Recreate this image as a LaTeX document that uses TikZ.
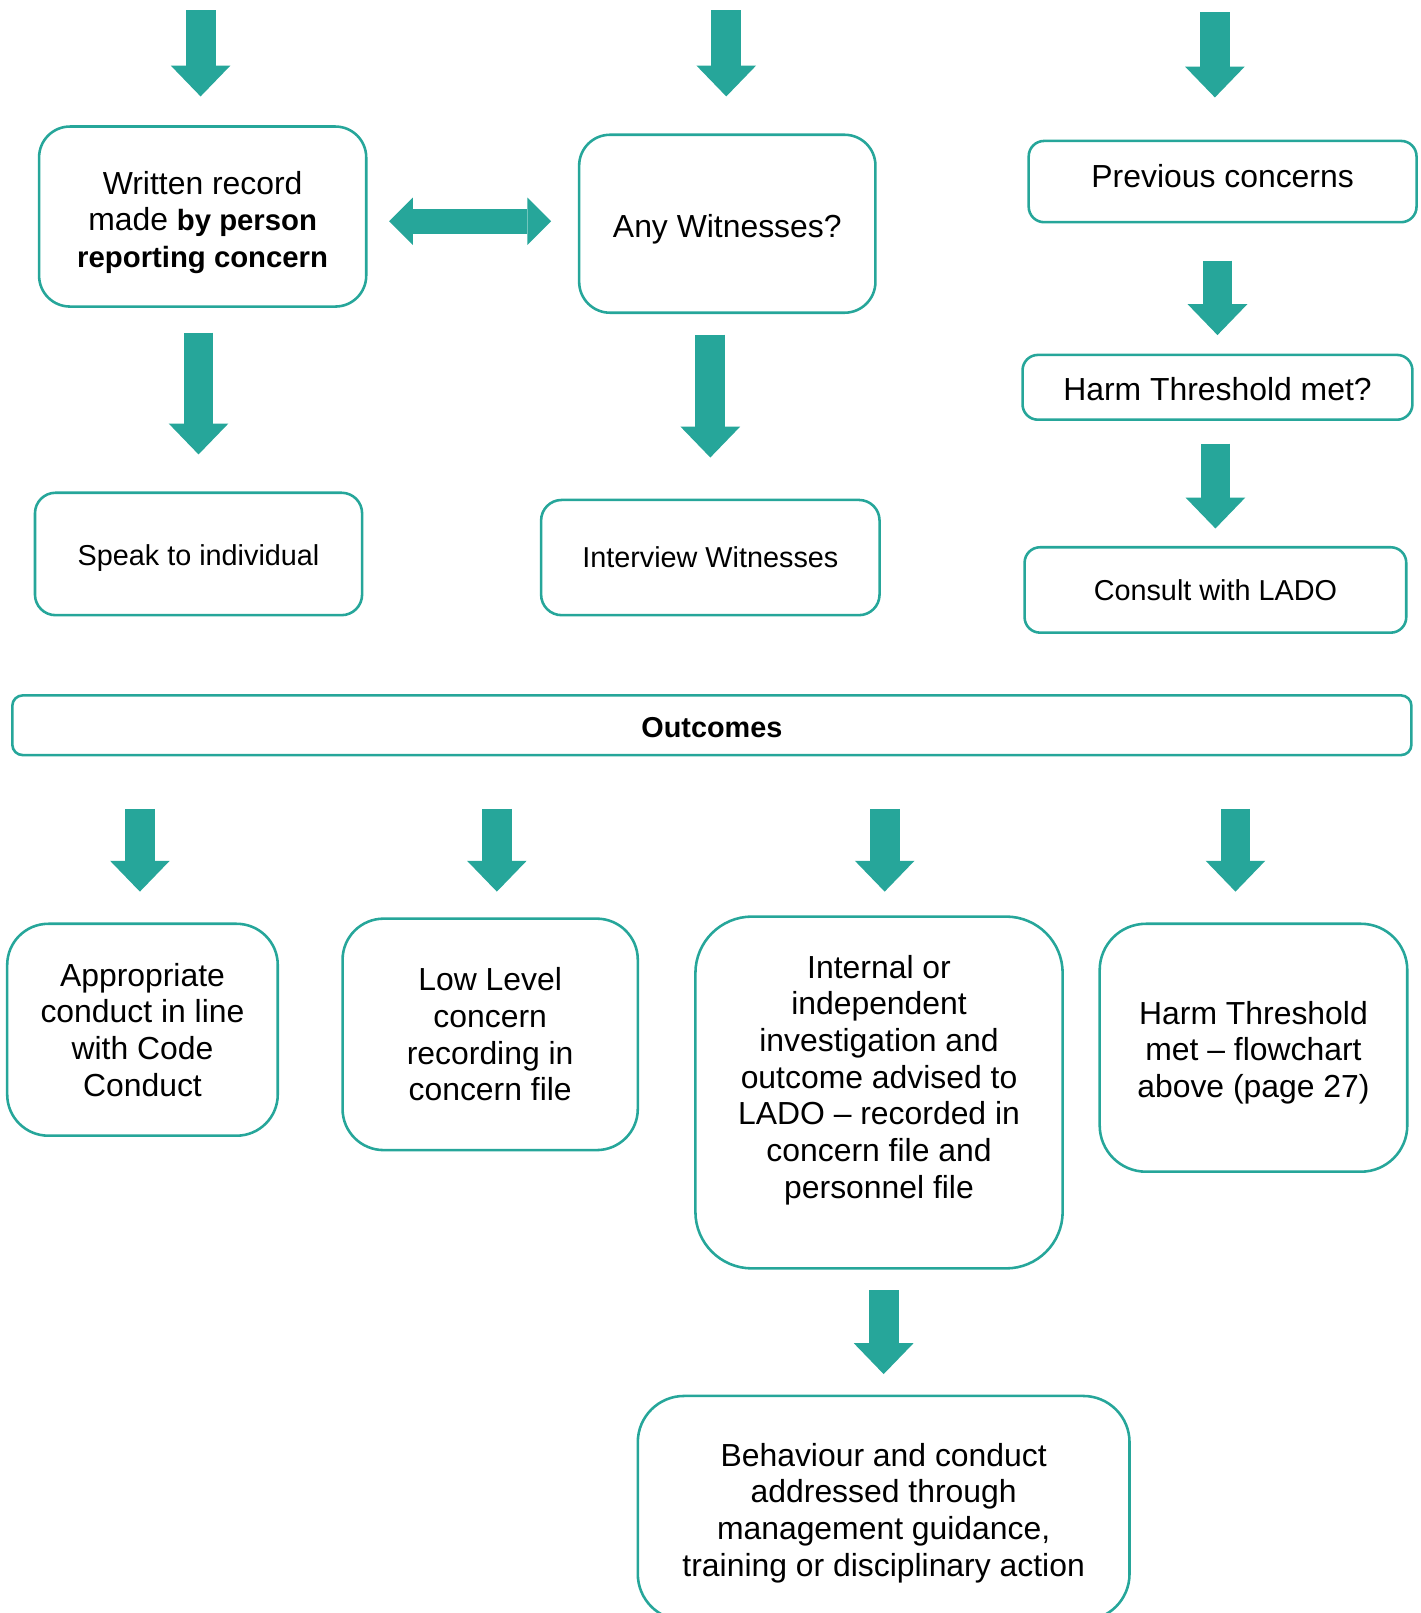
\documentclass[tikz,border=0pt]{standalone}
\usepackage{fontspec}
\setmainfont{Liberation Sans}
\usepackage{xcolor}
\usepackage{tikz}
\usetikzlibrary{arrows.meta}
\definecolor{flowteal}{RGB}{38,166,154}
\newcommand{\boldpart}[1]{{\fontsize{28.5}{35.7}\selectfont\textbf{#1}}}
\newcommand{\nudge}[2]{\raisebox{#1}[\height][\depth]{#2}}
\tikzset{my box/.style = {draw=flowteal, line width=2.5pt, rounded corners=#1,
    align=center, inner sep=0pt, font=\fontsize{31}{35.7}\selectfont},
  my box/.default=30pt,
  my small/.style = {font=\fontsize{28}{32}\selectfont},
  my arrow/.style = {draw=flowteal, line width=29pt,
    -{Triangle[width=58pt,length=30pt,line width=0pt]}},
  my double/.style = {draw=flowteal, line width=24pt,
    {Triangle[width=46pt,length=23pt,line width=0pt]}-{Triangle[width=46pt,length=23pt,line width=0pt]}}
}

\begin{document}
\begin{tikzpicture}[x=1pt,y=-1pt]
  \useasboundingbox (0,0) rectangle (1381,1568);
  \node[my box, minimum width=318pt, minimum height=175pt] (written) at (197,210.5)
    {\mbox{}\\[-2pt]Written record\\made \boldpart{by person}\\\boldpart{reporting concern}};
  \node[my box, minimum width=288pt, minimum height=173pt] (witness) at (707,217.5) {\nudge{-5pt}{Any Witnesses?}};
  \node[my box=15pt, minimum width=377pt, minimum height=79pt] (prev) at (1188.5,176.5) {\nudge{5pt}{Previous concerns}};
  \node[my box=15pt, minimum width=379pt, minimum height=63pt] (harm) at (1183.5,376.5) {\nudge{-2pt}{Harm Threshold met?}};
  \node[my box=15pt, my small, minimum width=371pt, minimum height=83pt] (lado) at (1181.5,573.5) {Consult with LADO};
  \node[my box=20pt, my small, minimum width=318pt, minimum height=119pt] (speak) at (193,538.5) {\nudge{-4pt}{Speak to individual}};
  \node[my box=20pt, my small, minimum width=329pt, minimum height=112pt] (interview) at (690.5,542) {Interview Witnesses};
  \node[my box=10pt, my small, minimum width=1360pt, minimum height=58pt] (outcomes) at (692,705) {\nudge{-2pt}{\textbf{Outcomes}}};
  \node[my box=40pt, minimum width=263pt, minimum height=206pt] (appr) at (138.5,1001)
    {Appropriate\\conduct in line\\with Code\\Conduct};
  \node[my box=40pt, minimum width=287pt, minimum height=225pt] (low) at (476.5,1005.5)
    {Low Level\\concern\\recording in\\concern file};
  \node[my box=55pt, minimum width=357pt, minimum height=342pt] (invest) at (854.5,1062)
    {Internal or\\independent\\investigation and\\outcome advised to\\LADO -- recorded in\\concern file and\\personnel file\\[-5pt]\mbox{}};
  \node[my box=45pt, minimum width=299pt, minimum height=241pt] (harmout) at (1218.5,1018.5)
    {\mbox{}\\[-4pt]Harm Threshold\\met -- flowchart\\above (page 27)};
  \node[my box=45pt, minimum width=478pt, minimum height=218pt] (behav) at (859,1466)
    {\mbox{}\\[-4pt]Behaviour and conduct\\addressed through\\management guidance,\\training or disciplinary action};

  \coordinate (in1) at (195,10);
  \coordinate (in2) at (706,10);
  \coordinate (in3) at (1181,12);
  \draw[my arrow, shorten >=28pt] (in1) -- (in1 |- written.north);
  \draw[my arrow, shorten >=36pt] (in2) -- (in2 |- witness.north);
  \draw[my arrow, shorten >=41pt] (in3) -- (in3 |- prev.north);
  \draw[my double, shorten <=21pt, shorten >=26pt] ([yshift=-4.5pt]written.east) -- ([yshift=2.5pt]witness.west);
  \draw[my arrow, shorten <=24pt, shorten >=36pt] (written.south -| speak.north) -- (speak.north);
  \draw[my arrow, shorten <=20pt, shorten >=40pt] (witness.south -| interview.north) -- (interview.north);
  \draw[my arrow, shorten <=36pt, shorten >=18pt] (prev.south -| harm.north) -- (harm.north);
  \draw[my arrow, shorten <=22pt, shorten >=17pt] (harm.south -| lado.north) -- (lado.north);
  \draw[my arrow, shorten <=51pt, shorten >=30pt] ([xshift=-2.5pt]outcomes.south -| appr.north) -- ([xshift=-2.5pt]appr.north);
  \draw[my arrow, shorten <=51pt, shorten >=25pt] ([xshift=6.5pt]outcomes.south -| low.north) -- ([xshift=6.5pt]low.north);
  \draw[my arrow, shorten <=51pt, shorten >=23pt] ([xshift=5.5pt]outcomes.south -| invest.north) -- ([xshift=5.5pt]invest.north);
  \draw[my arrow, shorten <=51pt, shorten >=30pt] ([xshift=-17.5pt]outcomes.south -| harmout.north) -- ([xshift=-17.5pt]harmout.north);
  \draw[my arrow, shorten <=20pt, shorten >=20pt] (invest.south -| behav.north) -- (behav.north);
\end{tikzpicture}
\end{document}
